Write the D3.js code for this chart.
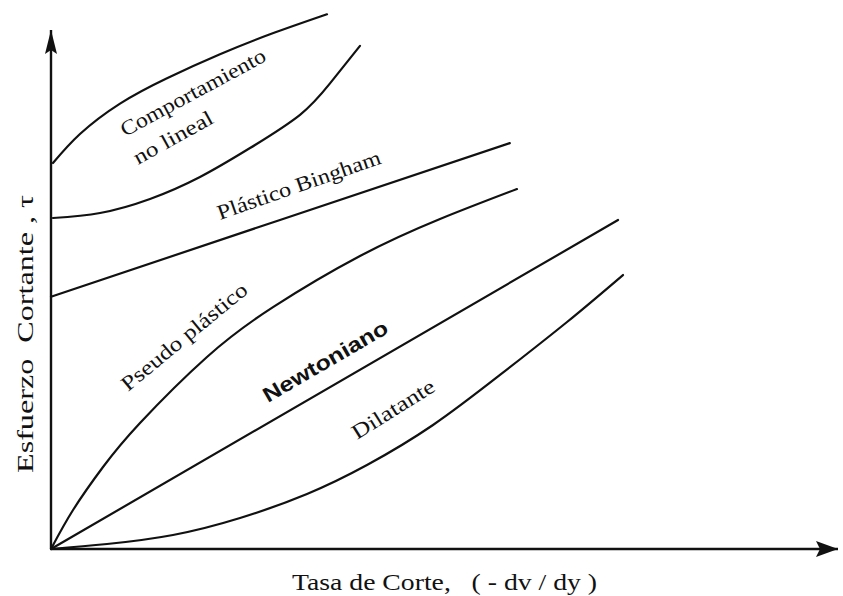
<!DOCTYPE html>
<html>
<head>
<meta charset="utf-8">
<script src="https://cdn.jsdelivr.net/npm/d3@7"></script>
<style>
  html, body { margin: 0; padding: 0; background: #fff; }
  svg { display: block; }
</style>
</head>
<body>
<svg id="chart" width="843" height="596"></svg>
<script>
// ---- Data (arbitrary units: shear rate x, shear stress y) ----
const nonlinearHighX = [0.25, 3.68, 8.77, 14.74, 21.47, 27.83, 35.07];
const nonlinearHighY = [74.37, 79.96, 85.82, 90.71, 95.32, 99.17, 103.03];

const nonlinearLowX = [0.25, 6.23, 12.58, 18.93, 25.29, 31.64, 35.45, 39.26];
const nonlinearLowY = [63.78, 64.74, 67.44, 71.68, 77.26, 83.66, 89.71, 96.94];

const binghamX = [0, 29.1, 58.3];
const binghamY = [48.6, 63.4, 78.2];

const pseudoX = [0, 2.80, 6.61, 11.31, 19.82, 28.21, 39.26, 49.43, 59.21];
const pseudoY = [0, 7.51, 15.80, 24.28, 37.0, 46.6, 56.45, 63.58, 69.36];

const newtonX = [0, 72.05];
const newtonY = [0, 63.39];

const dilatantX = [0, 7.12, 15.50, 24.02, 32.53, 40.15, 48.54, 57.05, 65.57, 72.68];
const dilatantY = [0, 0.96, 2.70, 5.97, 10.60, 16.18, 23.89, 33.53, 43.74, 52.79];

const xAxisLabel = "Tasa de Corte,   ( - dv / dy )";
const yAxisLabel = "Esfuerzo  Cortante , \u03C4";

// ---- Layout ----
const svg = d3.select("#chart");
const x = d3.scaleLinear().domain([0, 100]).range([51, 838]);
const y = d3.scaleLinear().domain([0, 100]).range([549, 30]);
const ink = "#111";

svg.append("rect").attr("width", 843).attr("height", 596).attr("fill", "#fff");

// Arrow markers
const defs = svg.append("defs");
defs.append("marker")
  .attr("id", "arrowY").attr("viewBox", "0 0 24 12")
  .attr("refX", 24).attr("refY", 6)
  .attr("markerWidth", 24).attr("markerHeight", 12)
  .attr("markerUnits", "userSpaceOnUse").attr("orient", "auto")
  .append("path").attr("d", "M0,0 L24,6 L0,12 L4,6 Z").attr("fill", ink);
defs.append("marker")
  .attr("id", "arrowX").attr("viewBox", "0 0 22 16")
  .attr("refX", 22).attr("refY", 8)
  .attr("markerWidth", 22).attr("markerHeight", 16)
  .attr("markerUnits", "userSpaceOnUse").attr("orient", "auto")
  .append("path").attr("d", "M0,0 L22,8 L0,16 L4,8 Z").attr("fill", ink);

// Axes
svg.append("line")
  .attr("x1", x(0)).attr("y1", y(0)).attr("x2", x(0)).attr("y2", y(100))
  .attr("stroke", ink).attr("stroke-width", 2.4).attr("marker-end", "url(#arrowY)");
svg.append("line")
  .attr("x1", x(0)).attr("y1", y(0)).attr("x2", x(100)).attr("y2", y(0))
  .attr("stroke", ink).attr("stroke-width", 2.6).attr("marker-end", "url(#arrowX)");

// Curves
const series = [
  [nonlinearHighX, nonlinearHighY],
  [nonlinearLowX, nonlinearLowY],
  [binghamX, binghamY],
  [pseudoX, pseudoY],
  [newtonX, newtonY],
  [dilatantX, dilatantY]
];
const line = d3.line()
  .x(d => x(d[0])).y(d => y(d[1]))
  .curve(d3.curveNatural);
series.forEach(([xs, ys]) => {
  svg.append("path")
    .datum(xs.map((v, i) => [v, ys[i]]))
    .attr("d", line)
    .attr("fill", "none")
    .attr("stroke", ink)
    .attr("stroke-width", 2.2)
    .attr("stroke-linecap", "round");
});

// Curve labels
const serif = "'Liberation Serif', 'Times New Roman', serif";
const sans = "'Liberation Sans', Arial, sans-serif";
const labels = [
  { text: "Comportamiento", sx: 125, sy: 137, ang: -28.3, len: 162, font: serif, size: 21, weight: "normal" },
  { text: "no lineal", sx: 138, sy: 165, ang: -29, len: 88, font: serif, size: 21, weight: "normal" },
  { text: "Pl\u00E1stico Bingham", sx: 220, sy: 220, ang: -19.3, len: 172, font: serif, size: 21, weight: "normal" },
  { text: "Pseudo pl\u00E1stico", sx: 128, sy: 392, ang: -39.5, len: 157, font: serif, size: 21, weight: "normal" },
  { text: "Newtoniano", sx: 268, sy: 403, ang: -30.2, len: 141, font: sans, size: 21, weight: "bold" },
  { text: "Dilatante", sx: 357, sy: 440, ang: -32, len: 94, font: serif, size: 21, weight: "normal" },
  { text: xAxisLabel, sx: 292, sy: 590, ang: 0, len: 305, font: serif, size: 23, weight: "normal" },
  { text: yAxisLabel, sx: 33, sy: 473, ang: -90, len: 278, font: serif, size: 23, weight: "normal" }
];
labels.forEach(l => {
  svg.append("text")
    .attr("transform", `translate(${l.sx},${l.sy}) rotate(${l.ang})`)
    .attr("x", 0).attr("y", 0)
    .attr("font-family", l.font)
    .attr("font-size", l.size)
    .attr("font-weight", l.weight)
    .attr("fill", ink)
    .attr("textLength", l.len)
    .attr("lengthAdjust", "spacingAndGlyphs")
    .style("white-space", "pre")
    .text(l.text);
});
</script>
</body>
</html>
